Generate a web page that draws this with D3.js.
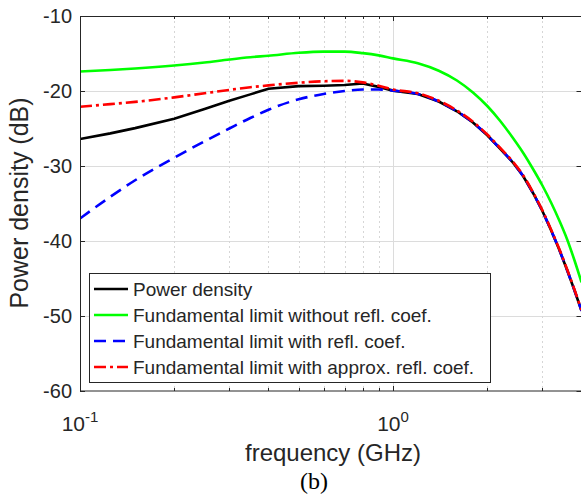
<!DOCTYPE html>
<html>
<head>
<meta charset="utf-8">
<script src="https://cdn.jsdelivr.net/npm/d3@7"></script>
<style>
  body { margin: 0; background: #fff; }
  text { font-family: "Liberation Sans", Arial, sans-serif; fill: #262626; }
</style>
</head>
<body>
<div id="chart"></div>
<script>
const width = 581,
  height = 495;
const margin = { top: 16, right: -0.5, bottom: 104, left: 80 };

// frequency samples (GHz)
const freq = [0.1, 0.125, 0.15, 0.2, 0.25, 0.3, 0.35, 0.4, 0.5, 0.6, 0.7, 0.8, 0.9, 1.0,
  1.2, 1.4, 1.6, 1.8, 2.0, 2.2, 2.4, 2.6, 2.8, 3.0, 3.2, 3.4, 3.6, 3.8, 4.0];

// series values (dB)
const powerDensity = [-26.4, -25.65, -24.95, -23.7, -22.4, -21.3, -20.45, -19.7, -19.35, -19.3, -19.2, -19.0, -19.45, -19.95,
  -20.4, -21.4, -22.7, -24.2, -25.9, -27.7, -29.4, -31.3, -33.6, -36.0, -38.6, -41.2, -43.9, -46.6, -49.3];
const limitNoRefl = [-17.4, -17.2, -17.0, -16.6, -16.2, -15.8, -15.5, -15.3, -14.9, -14.75, -14.75, -14.95, -15.25, -15.65,
  -16.3, -17.3, -18.6, -20.2, -22.0, -24.0, -26.1, -28.2, -30.4, -32.6, -34.9, -37.3, -39.8, -42.6, -45.5];
const limitRefl = [-37.0, -34.1, -31.9, -28.9, -26.7, -25.0, -23.6, -22.5, -21.1, -20.4, -20.0, -19.8, -19.8, -19.95,
  -20.4, -21.4, -22.7, -24.2, -25.9, -27.7, -29.4, -31.3, -33.6, -36.0, -38.6, -41.2, -43.9, -46.6, -49.3];
const limitApprox = [-22.1, -21.75, -21.45, -20.85, -20.3, -19.85, -19.5, -19.25, -18.9, -18.7, -18.65, -18.85, -19.3, -19.8,
  -20.3, -21.3, -22.6, -24.1, -25.8, -27.6, -29.3, -31.2, -33.5, -35.9, -38.5, -41.1, -43.8, -46.5, -49.2];

const legendLabels = ["Power density", "Fundamental limit without refl. coef.",
  "Fundamental limit with refl. coef.", "Fundamental limit with approx. refl. coef."];

const yTicks = [-60, -50, -40, -30, -20, -10];
const xMajor = [0.1, 1];
const xMinor = [0.2, 0.3, 0.4, 0.5, 0.6, 0.7, 0.8, 0.9, 2, 3];
const xTickLabels = [{ v: 0.1, exp: "-1" }, { v: 1, exp: "0" }];

const series = [
  { values: powerDensity, color: "#000000", dash: null, curve: d3.curveLinear },
  { values: limitNoRefl, color: "#00ff00", dash: null, curve: d3.curveMonotoneX },
  { values: limitRefl, color: "#0000ff", dash: "12,7", curve: d3.curveMonotoneX },
  { values: limitApprox, color: "#ff0000", dash: "12,4,3,4", curve: d3.curveMonotoneX },
];

const iw = width - margin.left - margin.right,
  ih = height - margin.top - margin.bottom;

const x = d3.scaleLog().domain([0.1, 4]).range([0, iw]);
const y = d3.scaleLinear().domain([-60, -10]).range([ih, 0]);

const svg = d3
  .select("#chart")
  .append("svg")
  .attr("width", width)
  .attr("height", height);

const g = svg.append("g").attr("transform", `translate(${margin.left},${margin.top})`);

g.append("clipPath").attr("id", "clip").append("rect").attr("width", iw).attr("height", ih);

// grid
g.selectAll(".hgrid")
  .data([-50, -40, -30, -20])
  .enter()
  .append("line")
  .attr("x1", 0).attr("x2", iw)
  .attr("y1", (d) => Math.round(y(d)) + 0.5).attr("y2", (d) => Math.round(y(d)) + 0.5)
  .attr("stroke", "#dcdcdc");

g.selectAll(".vgrid")
  .data([1])
  .enter()
  .append("line")
  .attr("x1", (d) => Math.round(x(d)) + 0.5).attr("x2", (d) => Math.round(x(d)) + 0.5)
  .attr("y1", 0).attr("y2", ih)
  .attr("stroke", "#dcdcdc");

g.selectAll(".mgrid")
  .data(xMinor)
  .enter()
  .append("line")
  .attr("x1", (d) => Math.round(x(d)) + 0.5).attr("x2", (d) => Math.round(x(d)) + 0.5)
  .attr("y1", 0).attr("y2", ih)
  .attr("stroke", "#d6d6d6")
  .attr("stroke-dasharray", "2,3");

// curves
const plot = g.append("g").attr("clip-path", "url(#clip)");
series.forEach((s) => {
  const line = d3.line()
    .x((d, i) => x(freq[i]))
    .y((d) => y(d))
    .curve(s.curve);
  plot.append("path")
    .datum(s.values)
    .attr("d", line)
    .attr("fill", "none")
    .attr("stroke", s.color)
    .attr("stroke-width", 2.6)
    .attr("stroke-dasharray", s.dash);
});

// box
g.append("rect")
  .attr("x", 0.5).attr("y", 0.5)
  .attr("width", iw).attr("height", ih - 0.5)
  .attr("fill", "none")
  .attr("stroke", "#262626");

// ticks
const tickLine = (sel, data, len, side) => {
  sel.selectAll(null)
    .data(data)
    .enter()
    .append("line")
    .attr("x1", (d) => Math.round(x(d)) + 0.5).attr("x2", (d) => Math.round(x(d)) + 0.5)
    .attr("y1", side === "bottom" ? ih : 0)
    .attr("y2", side === "bottom" ? ih - len : len)
    .attr("stroke", "#262626");
};
tickLine(g, xMajor, 5, "bottom");
tickLine(g, xMinor, 3, "bottom");
tickLine(g, xMajor, 5, "top");
tickLine(g, xMinor, 3, "top");

g.selectAll(".ytick")
  .data(yTicks)
  .enter()
  .append("line")
  .attr("x1", 0).attr("x2", 5)
  .attr("y1", (d) => Math.round(y(d)) + 0.5).attr("y2", (d) => Math.round(y(d)) + 0.5)
  .attr("stroke", "#262626");
g.selectAll(".ytickr")
  .data(yTicks)
  .enter()
  .append("line")
  .attr("x1", iw).attr("x2", iw - 5)
  .attr("y1", (d) => Math.round(y(d)) + 0.5).attr("y2", (d) => Math.round(y(d)) + 0.5)
  .attr("stroke", "#262626");

// y tick labels
g.selectAll(".ylab")
  .data(yTicks)
  .enter()
  .append("text")
  .attr("x", -8)
  .attr("y", (d) => y(d) + 7)
  .attr("text-anchor", "end")
  .style("font-size", "20px")
  .text((d) => d);

// x tick labels
const xl = g.selectAll(".xlab")
  .data(xTickLabels)
  .enter()
  .append("text")
  .attr("x", (d) => x(d.v))
  .attr("y", ih + 40)
  .attr("text-anchor", "middle")
  .style("font-size", "21px");
xl.append("tspan").text("10");
xl.append("tspan").attr("dy", -9).style("font-size", "15px").text((d) => d.exp);

// axis labels
svg.append("text")
  .attr("x", 333)
  .attr("y", 461)
  .attr("text-anchor", "middle")
  .style("font-size", "24px")
  .text("frequency (GHz)");

svg.append("text")
  .attr("transform", "translate(28,203) rotate(-90)")
  .attr("text-anchor", "middle")
  .style("font-size", "25px")
  .text("Power density (dB)");

svg.append("text")
  .attr("x", 314)
  .attr("y", 489)
  .attr("text-anchor", "middle")
  .style("font-family", "'Liberation Serif', 'Times New Roman', serif")
  .style("font-size", "24px")
  .style("fill", "#000")
  .text("(b)");

// legend
const legend = svg.append("g").attr("transform", "translate(89,273)");
legend.append("rect")
  .attr("x", 0.5).attr("y", 0.5)
  .attr("width", 401).attr("height", 109)
  .attr("fill", "#fff")
  .attr("stroke", "#262626");

const rows = legend.selectAll(".row")
  .data(series)
  .enter()
  .append("g")
  .attr("transform", (d, i) => `translate(0,${16 + i * 26})`);

rows.append("line")
  .attr("x1", 5).attr("x2", 39)
  .attr("y1", 0).attr("y2", 0)
  .attr("stroke", (d) => d.color)
  .attr("stroke-width", 2.6)
  .attr("stroke-dasharray", (d) => d.dash);

rows.append("text")
  .attr("x", 44)
  .attr("y", 7)
  .style("font-size", "19px")
  .text((d, i) => legendLabels[i]);
</script>
</body>
</html>
